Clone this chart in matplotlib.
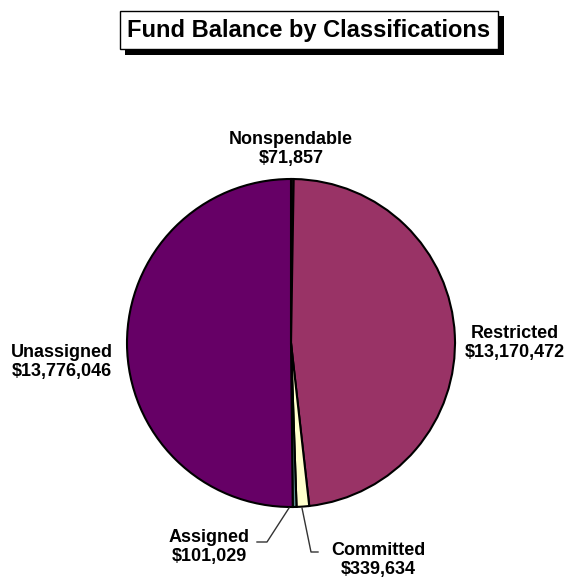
import matplotlib as mpl
import matplotlib.pyplot as plt
import matplotlib.patheffects as pe

mpl.rc('font', family='Liberation Sans', weight='bold')

# Fund balance data, clockwise from 12 o'clock
categories = ['Nonspendable', 'Restricted', 'Committed', 'Assigned', 'Unassigned']
values = [71857, 13170472, 339634, 101029, 13776046]
colors = ['#1a1a1a', '#993366', '#ffffcc', '#5f8f8f', '#660066']

fig = plt.figure(figsize=(5.7, 5.8), dpi=100)
ax = fig.add_axes([0, 0, 1, 1])
ax.axis('off')

wedges, _ = ax.pie(values, colors=colors, startangle=90, counterclock=False,
                   radius=164, center=(291, 237),
                   wedgeprops=dict(edgecolor='black', linewidth=1.5))
ax.set_xlim(0, 570)
ax.set_ylim(0, 580)
ax.set_aspect('equal')

fs = 13
labels = ['%s\n$%s' % (c, format(v, ',')) for c, v in zip(categories, values)]

ax.text(291, 431, labels[0], ha='center', va='center', fontsize=fs, linespacing=1.2)
ax.text(515, 237, labels[1], ha='center', va='center', fontsize=fs, linespacing=1.2)
ax.text(62, 218, labels[4], ha='center', va='center', fontsize=fs, linespacing=1.2)
ax.text(209, 33, labels[3], ha='center', va='center', fontsize=fs, linespacing=1.2)
ax.text(378, 20, labels[2], ha='center', va='center', fontsize=fs, linespacing=1.2)

# leader lines
ax.plot([257, 267, 289], [38, 38, 72], color='#333333', lw=1)
ax.plot([318, 311, 302], [28, 28, 72], color='#333333', lw=1)

# title with drop shadow
t = ax.text(309, 550, 'Fund Balance by Classifications', ha='center', va='center',
            fontsize=17, color='black',
            bbox=dict(boxstyle='square,pad=0.32', facecolor='white',
                      edgecolor='black', lw=1))
t.get_bbox_patch().set_path_effects([
    pe.SimplePatchShadow(offset=(4, -4), shadow_rgbFace='black', alpha=1),
    pe.Normal()])

fig.savefig('out.png', dpi=100)
